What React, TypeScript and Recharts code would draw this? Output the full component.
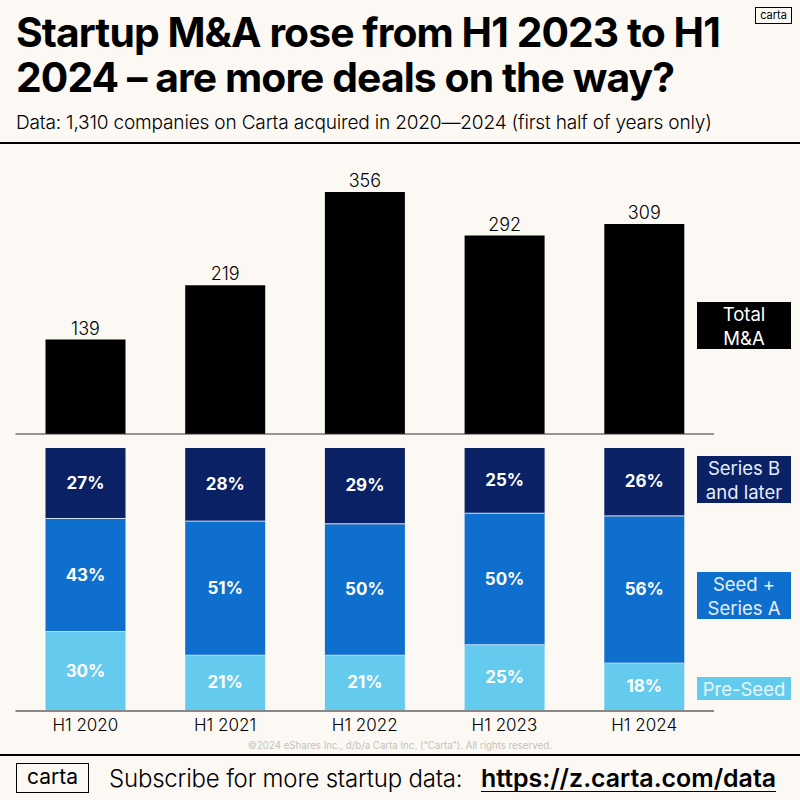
import { Bar, BarChart, LabelList, XAxis, YAxis } from "recharts";

const FONT = "Inter, 'Noto Sans', sans-serif";
const BG = "#fcf9f4";
const DIVIDER = "#cfe6f5";

const periods = ["H1 2020", "H1 2021", "H1 2022", "H1 2023", "H1 2024"];
const totals = [139, 219, 356, 292, 309];
const preSeed = [30, 21, 21, 25, 18];
const seedA = [43, 51, 50, 50, 56];
const seriesB = [27, 28, 29, 25, 26];

const totalRows = periods.map((period, i) => ({ period, total: totals[i] }));
const shareRows = periods.map((period, i) => ({
  period,
  preSeed: preSeed[i],
  seedA: seedA[i],
  seriesB: seriesB[i],
}));

const pct = (v: unknown) => `${v}%`;

// stacked segment with the thin light rule between it and the one below
// (drawn on its bottom edge, upper series paint last so the rule stays visible)
function Segment({ x, y, width, height, fill }: any) {
  const bottom = y + height - 0.5;
  return (
    <g>
      <rect x={x} y={y} width={width} height={height} fill={fill} />
      <line x1={x} x2={x + width} y1={bottom} y2={bottom} stroke={DIVIDER} strokeWidth={1} />
    </g>
  );
}

function Tag({ top, height, bg, color, children }: any) {
  return (
    <div
      style={{
        position: "absolute",
        left: 697,
        top,
        width: 94,
        height,
        background: bg,
        color,
        fontSize: 18.5,
        lineHeight: "24px",
        textAlign: "center",
        display: "flex",
        alignItems: "center",
        justifyContent: "center",
      }}
    >
      <span>{children}</span>
    </div>
  );
}

function abs(left: number, top: number, extra: object) {
  return { position: "absolute" as const, left, top, whiteSpace: "nowrap" as const, ...extra };
}

export default function App() {
  return (
    <div style={{ position: "fixed", left: 0, top: 0, width: 800, height: 800, background: BG, fontFamily: FONT, color: "#000", overflow: "hidden" }}>
      <div style={abs(16, 10, { fontSize: 40.8, fontWeight: 700, lineHeight: "45px", letterSpacing: -0.9 })}>
        Startup M&amp;A rose from H1 2023 to H1
        <br />
        2024 – are more deals on the way?
      </div>
      <div style={abs(16, 110, { fontSize: 19.1, fontWeight: 300, lineHeight: "24px", letterSpacing: -0.2 })}>
        Data: 1,310 companies on Carta acquired in 2020—2024 (first half of years only)
      </div>
      <div style={abs(755, 7, { width: 35, height: 15, border: "1px solid #000", fontSize: 11, lineHeight: "15px", textAlign: "center" })}>carta</div>
      <div style={abs(0, 142, { width: 800, height: 2, background: "#000" })} />

      <div style={abs(0, 144, {})}>
        <BarChart width={800} height={291} data={totalRows} margin={{ top: 48, right: 86, bottom: 0, left: 15.5 }} barCategoryGap={0}>
          <XAxis dataKey="period" height={1} tick={false} tickLine={false} axisLine={{ stroke: "#333", strokeWidth: 1 }} />
          <YAxis hide domain={[0, 356]} />
          <Bar dataKey="total" fill="#000" barSize={80} isAnimationActive={false}>
            <LabelList dataKey="total" position="top" offset={5} fill="#000" fontSize={18} fontWeight={300} fontFamily={FONT} />
          </Bar>
        </BarChart>
      </div>

      <div style={abs(0, 440, {})}>
        <BarChart width={800} height={310} data={shareRows} margin={{ top: 8, right: 86, bottom: 0, left: 15.5 }} barCategoryGap={0}>
          <XAxis dataKey="period" height={39} tickLine={false} axisLine={{ stroke: "#888", strokeWidth: 2 }} tick={{ fill: "#000", fontSize: 17, fontWeight: 300, fontFamily: FONT }} tickMargin={2} />
          <YAxis hide domain={[0, 100]} />
          <Bar dataKey="preSeed" stackId="s" fill="#65cbee" barSize={80} isAnimationActive={false}>
            <LabelList dataKey="preSeed" position="center" formatter={pct} fill="#fff" fontSize={17} fontWeight={700} fontFamily={FONT} dy={-1} />
          </Bar>
          <Bar dataKey="seedA" stackId="s" fill="#0f6fce" barSize={80} shape={<Segment />} isAnimationActive={false}>
            <LabelList dataKey="seedA" position="center" formatter={pct} fill="#fff" fontSize={17} fontWeight={700} fontFamily={FONT} dy={-1} />
          </Bar>
          <Bar dataKey="seriesB" stackId="s" fill="#0a2166" barSize={80} shape={<Segment />} isAnimationActive={false}>
            <LabelList dataKey="seriesB" position="center" formatter={pct} fill="#fff" fontSize={17} fontWeight={700} fontFamily={FONT} dy={-1} />
          </Bar>
        </BarChart>
      </div>

      <Tag top={302} height={47} bg="#000" color="#fff">Total<br />M&amp;A</Tag>
      <Tag top={456} height={47} bg="#0a2166" color="#e6eefc">Series B<br />and later</Tag>
      <Tag top={572} height={47} bg="#0f6fce" color="#e6eefc">Seed +<br />Series A</Tag>
      <Tag top={677} height={23} bg="#65cbee" color="#e6f7fd">Pre-Seed</Tag>

      <div style={abs(0, 740, { width: 800, textAlign: "center", fontSize: 9.7, color: "#c4c2bd", lineHeight: "12px" })}>
        ©2024 eShares Inc., d/b/a Carta Inc. (“Carta”). All rights reserved.
      </div>
      <div style={abs(0, 754, { width: 800, height: 2, background: "#000" })} />
      <div style={abs(16, 763, { width: 71, height: 28, border: "1.5px solid #000", fontSize: 21, lineHeight: "26px", textAlign: "center" })}>carta</div>
      <div style={abs(109, 764, { fontSize: 24, fontWeight: 300, lineHeight: "30px", letterSpacing: -0.2 })}>Subscribe for more startup data:</div>
      <div style={abs(481, 764, { fontSize: 24.9, fontWeight: 600, lineHeight: "28px", borderBottom: "1.5px solid #000", height: 27 })}>https://z.carta.com/data</div>
    </div>
  );
}
